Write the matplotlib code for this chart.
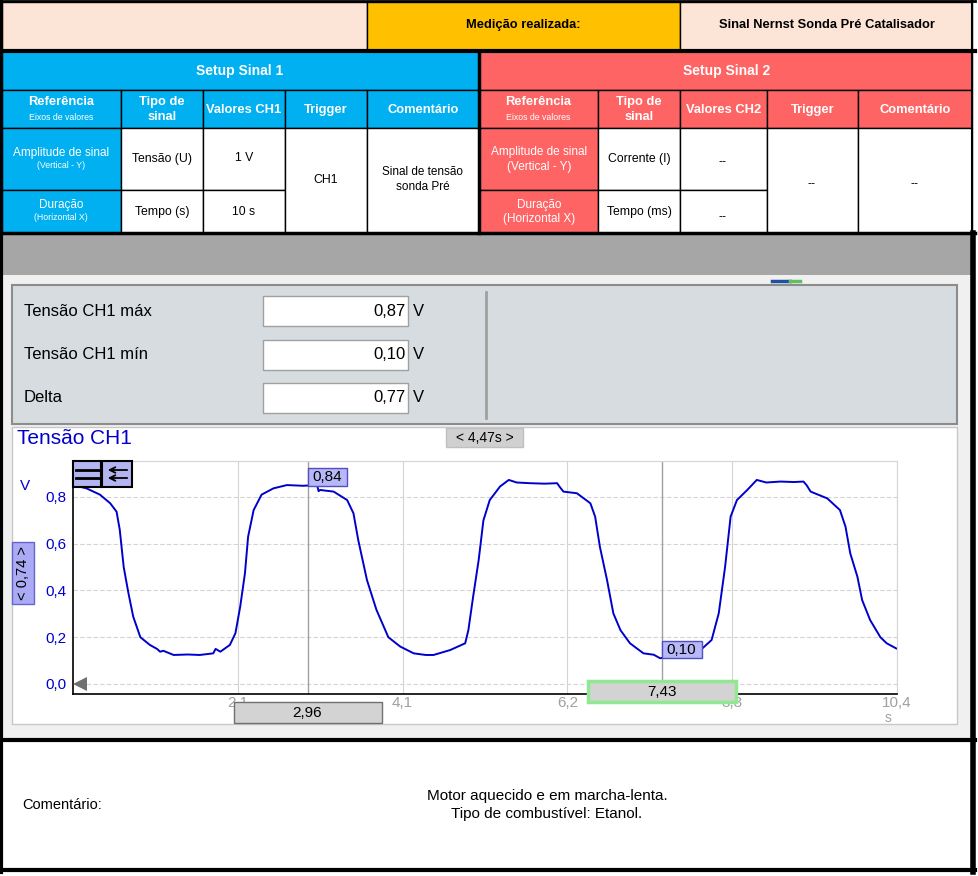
import matplotlib
matplotlib.use('Agg')
import matplotlib.pyplot as plt
from matplotlib.patches import Rectangle, Polygon

W, H = 979, 876

tempo = [0.00, 0.17, 0.34, 0.47, 0.55, 0.59, 0.64, 0.70, 0.76, 0.85, 0.97, 1.06,
         1.10, 1.14, 1.27, 1.45, 1.60, 1.77, 1.80, 1.86, 1.98, 2.05, 2.11, 2.17,
         2.21, 2.28, 2.38, 2.53, 2.70, 2.90, 3.08, 3.10, 3.12, 3.29, 3.46, 3.54,
         3.60, 3.71, 3.83, 3.98, 4.13, 4.30, 4.45, 4.55, 4.76, 4.95, 4.99, 5.05,
         5.12, 5.18, 5.26, 5.39, 5.50, 5.60, 5.77, 5.95, 6.11, 6.15, 6.19, 6.36,
         6.53, 6.59, 6.65, 6.74, 6.82, 6.91, 7.03, 7.20, 7.33, 7.41, 7.55, 7.67,
         7.92, 8.06, 8.15, 8.23, 8.30, 8.38, 8.51, 8.63, 8.75, 8.93, 9.10, 9.22,
         9.26, 9.31, 9.52, 9.68, 9.75, 9.81, 9.90, 9.96, 10.06, 10.19, 10.27, 10.39]
tensao = [0.851, 0.837, 0.810, 0.773, 0.737, 0.660, 0.500, 0.388, 0.288, 0.200, 0.167, 0.150,
          0.138, 0.142, 0.124, 0.126, 0.124, 0.131, 0.150, 0.138, 0.167, 0.217, 0.330, 0.473,
          0.630, 0.744, 0.810, 0.837, 0.851, 0.848, 0.851, 0.825, 0.830, 0.823, 0.787, 0.730,
          0.616, 0.445, 0.317, 0.200, 0.160, 0.131, 0.124, 0.124, 0.145, 0.174, 0.230, 0.373,
          0.530, 0.700, 0.787, 0.845, 0.873, 0.862, 0.859, 0.857, 0.859, 0.840, 0.823, 0.816,
          0.773, 0.716, 0.587, 0.445, 0.302, 0.230, 0.174, 0.131, 0.125, 0.110, 0.118, 0.124,
          0.145, 0.188, 0.302, 0.500, 0.716, 0.787, 0.830, 0.873, 0.862, 0.866, 0.864, 0.866,
          0.850, 0.823, 0.794, 0.744, 0.673, 0.559, 0.459, 0.359, 0.274, 0.200, 0.174, 0.152]

xticks_pos = [2.08, 4.16, 6.24, 8.32, 10.4]
xticks_lab = ['2,1', '4,1', '6,2', '8,3', '10,4']
yticks_pos = [0.0, 0.2, 0.4, 0.6, 0.8]
yticks_lab = ['0,0', '0,2', '0,4', '0,6', '0,8']

cursores = [2.96, 7.43]
cursor_lab = ['2,96', '7,43']
cursor_val = ['0,84', '0,10']

medidas_nomes = ['Tensão CH1 máx', 'Tensão CH1 mín', 'Delta']
medidas_valores = ['0,87', '0,10', '0,77']

cab_esq = ['Referência', ['Tipo de', 'sinal'], 'Valores CH1', 'Trigger', 'Comentário']
cab_dir = ['Referência', ['Tipo de', 'sinal'], 'Valores CH2', 'Trigger', 'Comentário']

PEACH = '#FCE4D6'
GOLD = '#FFC000'
BLUE = '#00B0F0'
RED = '#FF6464'
TF = ['Liberation Sans Narrow', 'Liberation Sans']
SF = ['Liberation Sans']

fig = plt.figure(figsize=(W / 100, H / 100), dpi=100)
bg = fig.add_axes([0, 0, 1, 1], zorder=0)
bg.set_xlim(0, W)
bg.set_ylim(H, 0)
bg.axis('off')


def cell(x0, y0, x1, y1, fc, ec='black', lw=1, a=None):
    a = a or bg
    a.add_patch(Rectangle((x0, y0), x1 - x0, y1 - y0, facecolor=fc, edgecolor=ec, linewidth=lw))


def txt(x, y, s, size, color='black', bold=False, ha='center', fam=TF, a=None, **kw):
    a = a or bg
    a.text(x, y, s, fontsize=size, color=color, fontweight='bold' if bold else 'normal',
           ha=ha, va='center', family=fam, **kw)


# ---- tabela de cima
cell(2, 2, 367, 51, PEACH)
cell(367, 2, 680, 51, GOLD)
cell(680, 2, 972, 51, PEACH)
txt(523, 25, 'Medição realizada:', 9.3, bold=True)
txt(827, 25, 'Sinal Nernst Sonda Pré Catalisador', 9.3, bold=True)

cell(2, 51, 479, 90, BLUE)
cell(479, 51, 972, 90, RED)
txt(240, 71, 'Setup Sinal 1', 10, 'white', True)
txt(727, 71, 'Setup Sinal 2', 10, 'white', True)

col_esq = [2, 121, 203, 285, 367, 479]
col_dir = [479, 598, 680, 767, 858, 972]
for cols, cab, fill in [(col_esq, cab_esq, BLUE), (col_dir, cab_dir, RED)]:
    for i in range(5):
        cell(cols[i], 90, cols[i + 1], 128, fill)
        xc = (cols[i] + cols[i + 1]) / 2
        if i == 0:
            txt(xc, 102, cab[i], 9.3, 'white', True)
            txt(xc, 117, 'Eixos de valores', 6.3, 'white')
        elif isinstance(cab[i], list):
            txt(xc, 102, cab[i][0], 9.3, 'white', True)
            txt(xc, 117, cab[i][1], 9.3, 'white', True)
        else:
            txt(xc, 110, cab[i], 9.3, 'white', True)
    # linhas de dados
    cell(cols[0], 128, cols[1], 190, fill)
    cell(cols[0], 190, cols[1], 233, fill)
    for i in (1, 2):
        cell(cols[i], 128, cols[i + 1], 190, 'white')
        cell(cols[i], 190, cols[i + 1], 233, 'white')
    for i in (3, 4):
        cell(cols[i], 128, cols[i + 1], 233, 'white')

# texto esquerda
txt(61, 153, 'Amplitude de sinal', 8.5, 'white')
txt(61, 166, '(Vertical - Y)', 6.3, 'white')
txt(61, 205, 'Duração', 8.5, 'white')
txt(61, 218, '(Horizontal X)', 6.3, 'white')
txt(162, 159, 'Tensão (U)', 8.8)
txt(162, 212, 'Tempo (s)', 8.8)
txt(244, 158, '1 V', 8.8)
txt(244, 212, '10 s', 8.8)
txt(326, 180, 'CH1', 8.8)
txt(423, 172, 'Sinal de tensão', 8.5)
txt(423, 187, 'sonda Pré', 8.5)
# texto direita
txt(539, 152, 'Amplitude de sinal', 8.5, 'white')
txt(539, 167, '(Vertical - Y)', 8.5, 'white')
txt(539, 205, 'Duração', 8.5, 'white')
txt(539, 219, '(Horizontal X)', 8.5, 'white')
txt(639, 159, 'Corrente (I)', 8.8)
txt(639, 212, 'Tempo (ms)', 8.8)
txt(723, 162, '--', 9)
txt(723, 217, '--', 9)
txt(812, 184, '--', 9)
txt(915, 184, '--', 9)

# bordas grossas
bg.plot([0, 975], [51, 51], color='black', lw=3)
bg.plot([479, 479], [51, 233], color='black', lw=2.5)
bg.plot([0, 975], [233, 233], color='black', lw=2.5)
bg.plot([0, 975], [1, 1], color='black', lw=2)

# ---- faixa cinza e tela do software
cell(3, 234, 971, 275, '#A6A6A6', ec='none')
cell(3, 275, 971, 740, '#F0F0F0', ec='none')
cell(12, 285, 957, 424, '#D6DCE0', ec='#8C8C8C', lw=1.5)
bg.plot([486, 486], [292, 418], color='#A0A0A0', lw=2)
bg.plot([772, 790], [281, 281], color='#2050A0', lw=2.5)
bg.plot([790, 800], [281, 281], color='#60C060', lw=2.5)

for i, (nome, val) in enumerate(zip(medidas_nomes, medidas_valores)):
    yc = 311 + i * 43.5
    txt(24, yc, nome, 12, ha='left', fam=SF)
    cell(263, yc - 15, 408, yc + 15, 'white', ec='#A0A0A0', lw=1)
    txt(406, yc, val, 12, ha='right', fam=SF)
    txt(413, yc, 'V', 12, ha='left', fam=SF)

cell(12, 427, 957, 724, 'white', ec='#C8C8C8')
txt(17, 439, 'Tensão CH1', 15, '#0000CC', ha='left', fam=SF)
txt(20, 486, 'V', 11, '#0000CC', ha='left', fam=SF)
txt(888, 718, 's', 10, '#A0A0A0', fam=SF)

# ---- comentário
cell(3, 741, 971, 870, 'white', ec='none')
bg.plot([0, 975], [740, 740], color='black', lw=3)
bg.plot([0, 975], [870, 870], color='black', lw=3)
bg.plot([1.5, 1.5], [0, 872], color='black', lw=3)
bg.plot([972.5, 972.5], [0, 233], color='black', lw=1.5)
bg.plot([973, 973], [233, 872], color='black', lw=4)
txt(22, 805, 'Comentário:', 10.5, ha='left')
txt(547, 796, 'Motor aquecido e em marcha-lenta.', 11)
txt(547, 814, 'Tipo de combustível: Etanol.', 11)

# ---- gráfico
x0p, x1p, y0p, y1p = 73, 897, 461, 694
ax = fig.add_axes([x0p / W, 1 - y1p / H, (x1p - x0p) / W, (y1p - y0p) / H], zorder=3)
ax.set_xlim(0, 10.4)
ax.set_ylim(-0.043, 0.954)
for y in yticks_pos:
    ax.axhline(y, color='#D4D4D4', lw=0.8, ls=(0, (4, 2)), zorder=0)
for x in xticks_pos:
    ax.axvline(x, color='#D4D4D4', lw=0.8, zorder=0)
for c in cursores:
    ax.axvline(c, color='#A0A0A0', lw=1, zorder=1)
ax.plot(tempo, tensao, color='#0000CD', lw=1.4, zorder=2)
ax.set_xticks(xticks_pos, xticks_lab)
ax.set_yticks(yticks_pos, yticks_lab)
ax.tick_params(axis='x', length=0, pad=1.5, labelsize=11, labelcolor='#A0A0A0', labelfontfamily='Liberation Sans')
ax.tick_params(axis='y', length=0, pad=5, labelsize=11, labelcolor='#0000CC', labelfontfamily='Liberation Sans')
for s in ('left', 'bottom'):
    ax.spines[s].set_color('black')
    ax.spines[s].set_linewidth(1.2)
for s in ('top', 'right'):
    ax.spines[s].set_color('#D4D4D4')
    ax.spines[s].set_linewidth(0.8)

# ---- sobreposições
top = fig.add_axes([0, 0, 1, 1], zorder=5)
top.set_xlim(0, W)
top.set_ylim(H, 0)
top.axis('off')
top.patch.set_alpha(0)


def px(t):
    return x0p + t * (x1p - x0p) / 10.4


cell(446, 428, 523, 447, '#D0D0D0', ec='#C0C0C0', a=top)
txt(484.5, 437.5, '< 4,47s >', 10, a=top, fam=SF)

# cursores
cx = px(cursores[0])
cell(cx - 74, 702, cx + 74, 723, '#D3D3D3', ec='#707070', a=top)
txt(cx, 713, cursor_lab[0], 11, a=top, fam=SF)
cx = px(cursores[1])
cell(cx - 74, 681, cx + 74, 702, '#D3D3D3', ec='#90E890', lw=2.5, a=top)
txt(cx, 692, cursor_lab[1], 11, a=top, fam=SF)

cx = px(cursores[0])
cell(cx, 468, cx + 39, 486, '#B8B8F8', ec='#5050C0', a=top)
txt(cx + 19.5, 477, cursor_val[0], 11, a=top, fam=SF)
cx = px(cursores[1])
cell(cx, 641, cx + 40, 658, '#B8B8F8', ec='#5050C0', a=top)
txt(cx + 20, 650, cursor_val[1], 11, a=top, fam=SF)

# régua lateral
cell(12, 542, 34, 604, '#AAAAF5', ec='#6666CC', a=top)
txt(23, 573, '< 0,74 >', 10.5, rotation=90, a=top, fam=SF)

# ícones do canto
cell(73, 461, 101, 487, '#B4B4F0', ec='black', lw=1.5, a=top)
cell(102, 461, 132, 487, '#B4B4F0', ec='black', lw=1.5, a=top)
top.plot([76, 99], [470, 470], color='black', lw=2)
top.plot([76, 99], [478, 478], color='black', lw=2)
for yy in (470, 478):
    top.annotate('', xy=(105, yy), xytext=(130, yy),
                 arrowprops=dict(arrowstyle='->', lw=1.3, color='black'))

top.add_patch(Polygon([(73, 684), (87, 677), (87, 691)], closed=True, facecolor='#707070', edgecolor='none'))

fig.savefig('out.png', dpi=100)
